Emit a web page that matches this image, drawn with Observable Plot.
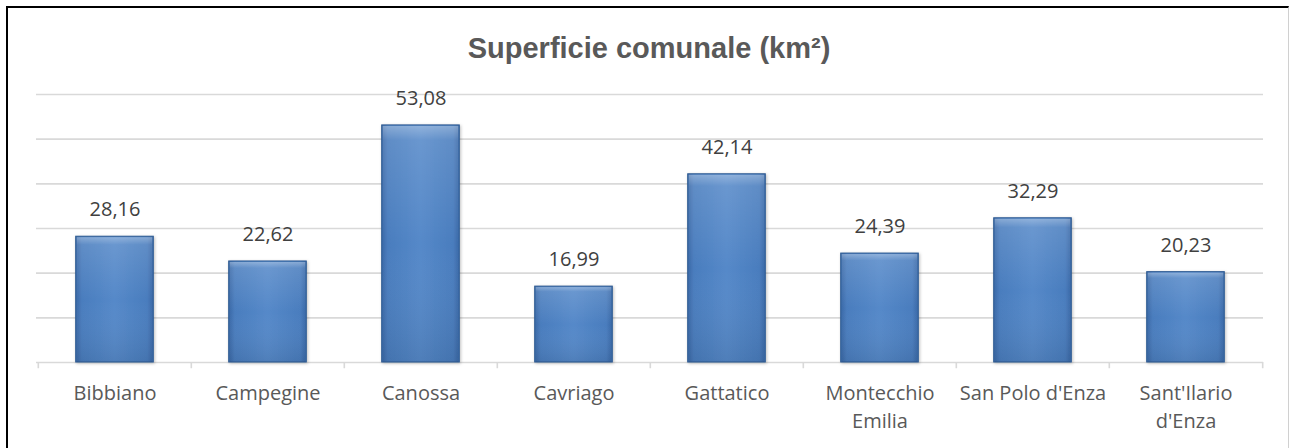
<!DOCTYPE html>
<html>
<head>
<meta charset="utf-8">
<script src="https://cdn.jsdelivr.net/npm/d3@7"></script>
<script src="https://cdn.jsdelivr.net/npm/@observablehq/plot@0.6"></script>
<style>
  html, body { margin: 0; padding: 0; background: #fff; }
  #wrap { position: relative; width: 1292px; height: 448px; overflow: hidden; background: #fff; }
  #frame { position: absolute; left: 6px; top: 6px; width: 1283px; height: 450px;
           border-left: 2px solid #000; border-top: 2px solid #000; border-right: 1px solid #d0d0d0; box-sizing: border-box; }
  #title { position: absolute; top: 31px; left: 6px; width: 1286px; text-align: center;
           font-family: "Liberation Sans", Arial, sans-serif; font-weight: bold; font-size: 29px; line-height: 34px; color: #595959; }
  #chart { position: absolute; left: 0; top: 70px; }
</style>
</head>
<body>
<div id="wrap">
  <div id="frame"></div>
  <div id="title">Superficie comunale (km²)</div>
  <div id="chart"></div>
</div>
<script>
const categories = ["Bibbiano", "Campegine", "Canossa", "Cavriago", "Gattatico", "Montecchio Emilia", "San Polo d'Enza", "Sant'Ilario d'Enza"];
const tickLabels = ["Bibbiano", "Campegine", "Canossa", "Cavriago", "Gattatico", "Montecchio\nEmilia", "San Polo d'Enza", "Sant'Ilario\nd'Enza"];
const values = [28.16, 22.62, 53.08, 16.99, 42.14, 24.39, 32.29, 20.23];
const gridValues = [0, 10, 20, 30, 40, 50, 60];

const data = categories.map((c, i) => ({name: c, label: tickLabels[i], value: values[i]}));
const fmt = v => v.toFixed(2).replace(".", ",");

const defs = () => {
  const ns = "http://www.w3.org/2000/svg";
  const d = document.createElementNS(ns, "defs");
  d.innerHTML = `
    <linearGradient id="barH" x1="0" y1="0" x2="1" y2="0">
      <stop offset="0" stop-color="#3a68a6"/>
      <stop offset="0.08" stop-color="#4a7dbe"/>
      <stop offset="0.5" stop-color="#5589c9"/>
      <stop offset="0.92" stop-color="#4a7dbe"/>
      <stop offset="1" stop-color="#3a68a6"/>
    </linearGradient>
    <linearGradient id="barV" x1="0" y1="0" x2="0" y2="1">
      <stop offset="0" stop-color="#ffffff" stop-opacity="0.35"/>
      <stop offset="0.06" stop-color="#ffffff" stop-opacity="0.12"/>
      <stop offset="0.5" stop-color="#ffffff" stop-opacity="0"/>
      <stop offset="1" stop-color="#000000" stop-opacity="0.08"/>
    </linearGradient>
    <filter id="shadow" x="-20%" y="-10%" width="140%" height="120%">
      <feDropShadow dx="1" dy="1" stdDeviation="1.5" flood-color="#000" flood-opacity="0.25"/>
    </filter>`;
  return d;
};

const inset = 37.7;
const chart = Plot.plot({
  width: 1292,
  height: 378,
  marginTop: 24,
  marginBottom: 86,
  marginLeft: 36,
  marginRight: 29,
  x: {type: "band", domain: categories, padding: 0, axis: null},
  y: {domain: [0, 60], axis: null},
  style: {fontFamily: "'Open Sans', sans-serif", background: "transparent"},
  marks: [
    defs,
    Plot.ruleY(gridValues, {y: d => d, stroke: "#d9d9d9", strokeWidth: 1.6}),
    Plot.ruleX(categories, {x: d => d, y1: 0, y2: -1.4, dx: -76.69, stroke: "#d9d9d9", strokeWidth: 1.6}),
    Plot.ruleX([categories[categories.length - 1]], {x: d => d, y1: 0, y2: -1.4, dx: 76.69, stroke: "#d9d9d9", strokeWidth: 1.6}),
    Plot.barY(data, {x: "name", y: "value", insetLeft: inset, insetRight: inset, fill: "url(#barH)", stroke: "#2f5b92", strokeWidth: 1,
      render: (index, scales, values, dims, ctx, next) => { const g = next(index, scales, values, dims, ctx); g.setAttribute("filter", "url(#shadow)"); return g; }}),
    Plot.barY(data, {x: "name", y: "value", insetLeft: inset + 1, insetRight: inset + 1, insetTop: 1, fill: "url(#barV)"}),
    Plot.text(data, {x: "name", y: "value", text: d => fmt(d.value), dy: -27, fontSize: 20, fill: "#404040"}),
    Plot.text(data, {x: "name", y: 0, text: "label", lineAnchor: "top", dy: 18, fontSize: 20, lineHeight: 1.4, fill: "#595959"})
  ]
});
document.getElementById("chart").appendChild(chart);
</script>
</body>
</html>
